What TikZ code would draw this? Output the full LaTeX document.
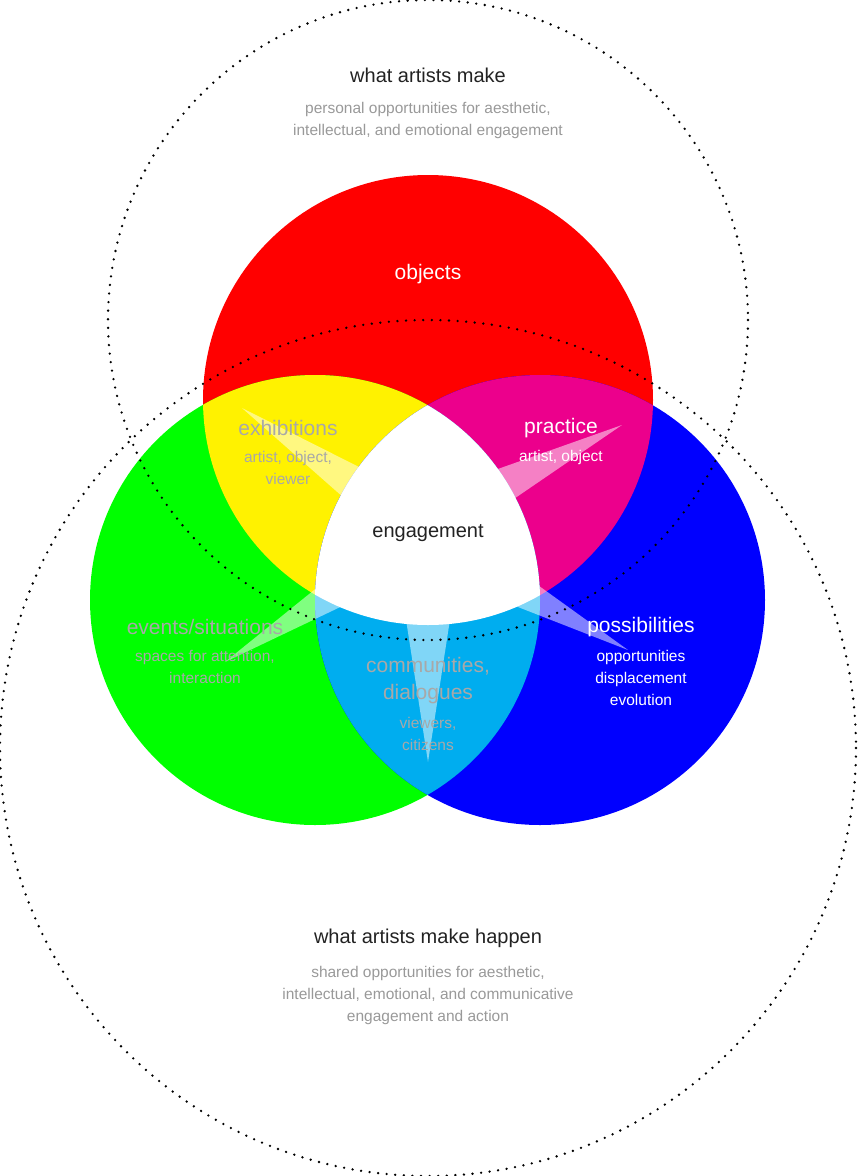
\documentclass[tikz,border=0pt]{standalone}
\usepackage{fontspec}
\setmainfont{Liberation Sans}
\definecolor{tdark}{HTML}{222222}
\definecolor{tgray}{HTML}{999999}
\definecolor{lgray}{HTML}{A8A8A8}
\begin{document}
\begin{tikzpicture}[x=1pt,y=-1pt,
  dotc/.style={draw=black,line width=2.6pt,line cap=round,dash pattern=on 0pt off 8.6pt},
  wedge/.style={fill=white,fill opacity=0.5},
  title/.style={text=tdark,font=\fontsize{20}{24}\selectfont,align=center},
  sub/.style={text=tgray,font=\fontsize{15.5}{22}\selectfont,align=center},
  lab/.style={font=\fontsize{21}{22}\selectfont,align=center},
  slab/.style={font=\fontsize{15.5}{22}\selectfont,align=center}]
\useasboundingbox (0,0) rectangle (858,1176);
\def\R{(428,400) circle (225)}
\def\G{(315,600) circle (225)}
\def\B{(540,600) circle (225)}
\fill[red] \R; \fill[green] \G; \fill[blue] \B;
\begin{scope}\clip \R; \fill[yellow] \G; \fill[magenta] \B; \end{scope}
\begin{scope}\clip \G; \fill[cyan] \B; \end{scope}
\begin{scope}\clip \R; \clip \G; \fill[white] \B; \end{scope}
% wedges
\fill[wedge] (242,408) -- (365,470) -- (352,505) -- cycle;
\fill[wedge] (622,425) -- (495,470) -- (505,505) -- cycle;
\fill[wedge] (225,662) -- (345,565) -- (355,600) -- cycle;
\fill[wedge] (628,650) -- (510,565) -- (500,600) -- cycle;
\fill[wedge] (428,762) -- (403,600) -- (453,600) -- cycle;
% dotted circles
\draw[dotc] (428,320) circle (320);
\draw[dotc] (428,748) circle (428);
% texts
\node[title] (t1) at (428,75) {what artists make};
\node[sub] (s1) at (428,120) {personal opportunities for aesthetic,\\intellectual, and emotional engagement};
\node[title] (t2) at (428,938) {what artists make happen};
\node[sub] (s2) at (428,995) {shared opportunities for aesthetic,\\intellectual, emotional, and communicative\\engagement and action};
\node[lab,text=white] (ob) at (428,274) {objects};
\node[lab,text=lgray] (ex) at (288,428) {exhibitions};
\node[slab,text=lgray] (exs) at (288,468) {artist, object,\\viewer};
\node[lab,text=white] (pr) at (561,428) {practice};
\node[slab,text=white] (prs) at (561,457) {artist, object};
\node[text=tdark,font=\fontsize{20}{24}\selectfont] (en) at (428,533) {engagement};
\node[lab,text=lgray] (ev) at (205,627) {events/situations};
\node[slab,text=lgray] (evs) at (205,667) {spaces for attention,\\interaction};
\node[lab,text=white] (po) at (641,627) {possibilities};
\node[slab,text=white] (pos) at (641,678) {opportunities\\displacement\\evolution};
\node[lab,text=lgray,font=\fontsize{21}{27}\selectfont] (co) at (428,681) {communities,\\dialogues};
\node[slab,text=lgray] (cos) at (428,734) {viewers,\\citizens};
\end{tikzpicture}
\end{document}
